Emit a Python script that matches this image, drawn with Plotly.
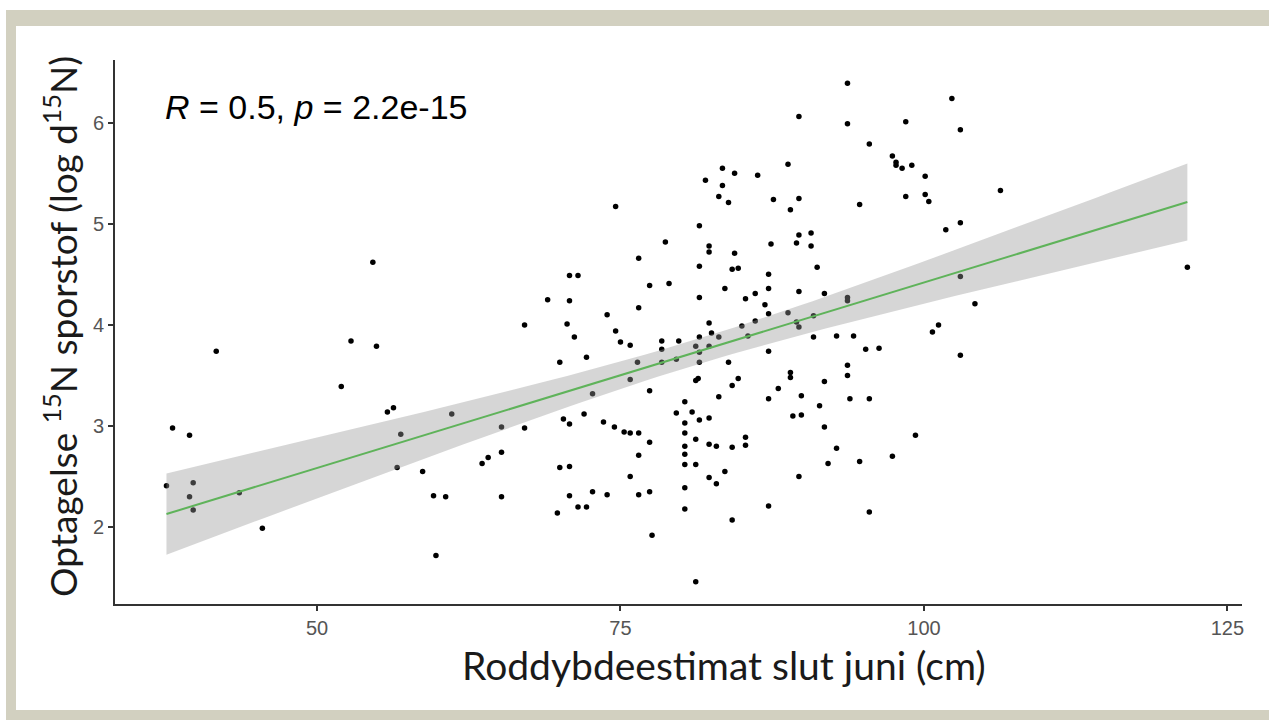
import numpy as np
import plotly.graph_objects as go

# ---- data ----
x_cm = [
    54.6, 41.7, 52.8, 54.9, 52.0, 67.1, 55.8, 56.3, 61.1, 38.1, 39.5, 56.9, 65.2, 67.1,
    37.6, 39.8, 39.5, 39.8, 43.6, 45.5, 56.6, 58.7, 63.6, 64.1, 65.2, 59.6, 60.6, 65.2, 59.8,
    89.7, 88.8, 83.4, 84.4, 86.3, 82.0, 83.4, 83.1, 83.9, 87.6, 89.0, 89.7, 74.6, 81.5,
    78.7, 82.3, 82.3, 87.4, 89.5, 89.7, 76.5, 84.4, 81.5, 84.2, 84.7, 70.8, 71.5, 87.2,
    77.4, 79.0, 83.6, 87.2, 89.7, 69.0, 70.8, 81.5, 85.3, 86.1, 86.9, 87.2, 88.8, 89.7,
    73.9, 76.5, 70.6, 74.6, 71.2, 82.3, 82.5, 83.1, 85.0, 86.1, 81.5,
    75.0, 75.8, 78.4, 78.4, 79.8, 81.2, 82.3, 81.5, 85.5, 87.2, 89.5, 70.0, 72.2, 76.4,
    78.4, 79.6, 81.5, 83.9, 75.8, 81.4, 81.2, 84.7, 84.2, 89.0, 89.0, 88.0, 87.2, 89.2,
    72.7, 77.4, 83.1, 80.3, 79.6, 80.9, 81.5, 82.3, 80.3, 70.3, 70.8, 72.0, 73.6, 74.5,
    75.3, 75.8, 76.5, 77.4, 80.3, 80.3, 81.2, 82.3, 82.9, 84.2, 85.3, 85.3, 76.5, 80.3,
    80.3, 81.2, 70.0, 70.8, 83.6, 75.8, 82.3, 82.9, 89.7, 80.3, 70.8, 72.7, 73.9, 76.5,
    77.4, 71.5, 72.2, 69.8, 80.3, 87.2, 84.2, 77.6, 81.2,
    93.7, 102.3, 93.7, 98.5, 103.0, 95.5, 97.4, 97.7, 97.7, 98.2, 99.0, 100.1, 94.7, 98.5,
    100.1, 100.4, 106.3, 103.0, 101.8, 90.7, 90.7, 91.2, 91.8, 93.7, 93.7, 103.0, 104.2,
    121.7, 90.9, 101.2, 100.7, 90.9, 92.8, 94.2,
    95.2, 96.3, 103.0, 93.7, 93.7, 91.8, 89.9, 93.9, 95.5, 91.4, 89.9, 91.8, 99.3, 92.8,
    92.1, 94.7, 97.4, 95.5,
]
y_log = [
    4.62, 3.74, 3.84, 3.79, 3.39, 4.00, 3.14, 3.18, 3.12, 2.98, 2.91, 2.92, 2.99, 2.98,
    2.41, 2.44, 2.30, 2.17, 2.34, 1.99, 2.59, 2.55, 2.63, 2.69, 2.74, 2.31, 2.30, 2.30, 1.72,
    6.06, 5.59, 5.55, 5.50, 5.48, 5.43, 5.38, 5.27, 5.21, 5.24, 5.14, 5.25, 5.17, 4.98,
    4.82, 4.78, 4.72, 4.80, 4.81, 4.89, 4.66, 4.71, 4.58, 4.55, 4.56, 4.49, 4.49, 4.50,
    4.39, 4.41, 4.36, 4.36, 4.33, 4.25, 4.24, 4.27, 4.26, 4.31, 4.20, 4.11, 4.12, 3.98,
    4.10, 4.17, 4.01, 3.94, 3.88, 4.02, 3.92, 3.88, 3.99, 4.04, 3.88,
    3.83, 3.80, 3.84, 3.76, 3.84, 3.79, 3.79, 3.73, 3.89, 3.74, 4.03, 3.63, 3.68, 3.63,
    3.63, 3.66, 3.63, 3.63, 3.46, 3.47, 3.45, 3.47, 3.40, 3.53, 3.48, 3.37, 3.27, 3.10,
    3.32, 3.35, 3.29, 3.24, 3.13, 3.14, 3.06, 3.08, 3.03, 3.07, 3.02, 3.12, 3.04, 2.99,
    2.94, 2.93, 2.93, 2.84, 2.93, 2.80, 2.87, 2.82, 2.80, 2.79, 2.89, 2.81, 2.71, 2.72,
    2.62, 2.62, 2.59, 2.60, 2.55, 2.50, 2.49, 2.43, 2.50, 2.39, 2.31, 2.35, 2.32, 2.32,
    2.35, 2.20, 2.20, 2.14, 2.18, 2.21, 2.07, 1.92, 1.46,
    6.39, 6.24, 5.99, 6.01, 5.93, 5.79, 5.67, 5.61, 5.58, 5.55, 5.58, 5.47, 5.19, 5.27,
    5.29, 5.22, 5.33, 5.01, 4.94, 4.91, 4.78, 4.57, 4.31, 4.27, 4.24, 4.48, 4.21,
    4.57, 4.09, 4.00, 3.93, 3.88, 3.89, 3.89,
    3.76, 3.77, 3.70, 3.60, 3.50, 3.44, 3.30, 3.27, 3.27, 3.20, 3.11, 2.99, 2.91, 2.78,
    2.63, 2.65, 2.70, 2.15,
]
x_ticks = [50, 75, 100, 125]
y_ticks = [2, 3, 4, 5, 6]
stat_label = "<i>R</i> = 0.5, <i>p</i> = 2.2e-15"
x_title = "Roddybdeestimat slut juni (cm)"
y_title = "Optagelse <sup>15</sup>N sporstof (log d<sup>15</sup>N)"

# ---- linear fit with 95% confidence band (like geom_smooth(method='lm')) ----
xa = np.array(x_cm)
ya = np.array(y_log)
n = len(xa)
b1, b0 = np.polyfit(xa, ya, 1)
resid = ya - (b0 + b1 * xa)
s = np.sqrt(np.sum(resid ** 2) / (n - 2))
xbar = xa.mean()
sxx = np.sum((xa - xbar) ** 2)
t975 = 1.97
xg = np.linspace(xa.min(), xa.max(), 80)
yg = b0 + b1 * xg
se = s * np.sqrt(1.0 / n + (xg - xbar) ** 2 / sxx)
upper = yg + t975 * se
lower = yg - t975 * se

fig = go.Figure()
fig.add_trace(go.Scatter(x=x_cm, y=y_log, mode="markers",
                         marker=dict(size=5.5, color="black"), showlegend=False,
                         hoverinfo="x+y"))
fig.add_trace(go.Scatter(x=np.concatenate([xg, xg[::-1]]),
                         y=np.concatenate([upper, lower[::-1]]),
                         fill="toself", fillcolor="rgba(153,153,153,0.4)",
                         line=dict(width=0), mode="lines", showlegend=False,
                         hoverinfo="skip"))
fig.add_trace(go.Scatter(x=xg, y=yg, mode="lines",
                         line=dict(color="#5fb35a", width=2), showlegend=False))

# plot area in pixels: x 115..1242, y 60..604
L, R, T, B = 115, 27, 60, 116
W, H = 1269 - L - R, 720 - T - B


def px(xp):
    return (xp - L) / W


def py(yp):
    return (720 - B - yp) / H


fig.update_layout(
    width=1269, height=720,
    margin=dict(l=L, r=R, t=T, b=B),
    paper_bgcolor="white",
    plot_bgcolor="rgba(0,0,0,0)",
    showlegend=False,
    shapes=[
        dict(type="rect", xref="paper", yref="paper", layer="below",
             x0=px(6), x1=px(1300), y0=py(740), y1=py(10),
             fillcolor="#d2d0c0", line=dict(width=0)),
        dict(type="rect", xref="paper", yref="paper", layer="below",
             x0=px(16), x1=px(1300), y0=py(710), y1=py(26),
             fillcolor="white", line=dict(width=0)),
    ],
    xaxis=dict(range=[33.36, 126.2], tickvals=x_ticks, showgrid=False, zeroline=False,
               showline=True, linecolor="#333333", linewidth=2,
               ticks="outside", ticklen=5, tickwidth=1.5, tickcolor="#333333",
               tickfont=dict(family="Liberation Sans", size=20, color="#555555")),
    yaxis=dict(range=[1.24, 6.62], tickvals=y_ticks, showgrid=False, zeroline=False,
               showline=True, linecolor="#333333", linewidth=2,
               ticks="outside", ticklen=5, tickwidth=1.5, tickcolor="#333333",
               tickfont=dict(family="Liberation Sans", size=20, color="#555555")),
    annotations=[
        dict(text=stat_label, xref="paper", yref="paper", x=px(163), y=py(107),
             xanchor="left", yanchor="middle", showarrow=False,
             font=dict(family="Liberation Sans", size=34, color="black")),
        dict(text=x_title, xref="paper", yref="paper", x=px(724), y=py(665),
             xanchor="center", yanchor="middle", showarrow=False,
             font=dict(family="Lato", size=39, color="#1a1a1a")),
        dict(text=y_title, xref="paper", yref="paper", x=px(60), y=py(327),
             xanchor="center", yanchor="middle", showarrow=False, textangle=-90,
             font=dict(family="Lato", size=37, color="#1a1a1a")),
    ],
)

fig.write_html("out.html",
               config={"displayModeBar": False},
               post_script="document.body.style.margin='0';document.body.style.overflow='hidden';")
